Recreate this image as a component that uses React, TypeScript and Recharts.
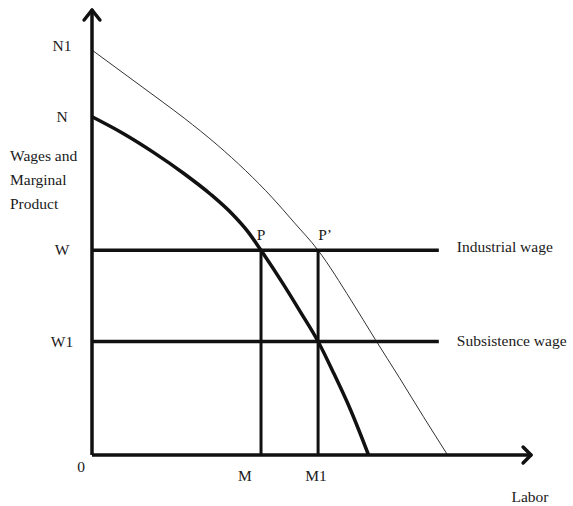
import { ComposedChart, Line, XAxis, YAxis, ReferenceDot, ReferenceLine, Label } from 'recharts';

// labor axis (x) and wage axis (y), both on a 0..100 scale
const laborTicks = [38.5, 51.5];
const laborTickLabels = ['M', 'M1'];
const wageTicks = [0, 25.5, 46, 76, 91];
const wageTickLabels = ['0', 'W1', 'W', 'N', 'N1'];

const industrialWage = 46;
const subsistenceWage = 25.5;
const wageLineEnd = 79;
const laborM = 38.5;
const laborM1 = 51.5;

// marginal product curve N
const mpX = [0, 7, 14, 21, 27, 32, 35.5, 38.5, 43.5, 47.5, 51.5, 55, 59, 63];
const mpY = [76, 72.3, 68, 63.2, 58.6, 54.1, 50.2, 46, 38.5, 32.1, 25.5, 18.5, 9.9, 0];
// shifted marginal product curve N1
const mp1X = [0, 8, 16, 21, 28.5, 35, 41, 46, 51.5, 59, 64.5, 70, 75.5, 81];
const mp1Y = [91, 85.2, 79.4, 75.7, 69.7, 63.9, 57.9, 52.3, 46, 34.8, 26, 17.4, 8.6, 0];

const mpData = mpX.map((x, i) => ({ x, y: mpY[i] }));
const mp1Data = mp1X.map((x, i) => ({ x, y: mp1Y[i] }));
const industrialLine = [{ x: 0, y: industrialWage }, { x: wageLineEnd, y: industrialWage }];
const subsistenceLine = [{ x: 0, y: subsistenceWage }, { x: wageLineEnd, y: subsistenceWage }];
const mLine = [{ x: laborM, y: 0 }, { x: laborM, y: industrialWage }];
const m1Line = [{ x: laborM1, y: 0 }, { x: laborM1, y: industrialWage }];

const FONT = "'Liberation Serif', 'Times New Roman', serif";
const INK = '#111';
const TEXT = '#1a1a1a';
const FS = 15.5;
const W = 573;
const H = 506;

const WageTick = (props: any) => {
  const { x, y, payload } = props;
  const idx = wageTicks.indexOf(payload.value);
  const label = wageTickLabels[idx];
  if (payload.value === 0) {
    return <text x={x - 11} y={y + 17} textAnchor="middle" fontFamily={FONT} fontSize={FS} fill={TEXT}>{label}</text>;
  }
  const lift = idx === wageTicks.length - 1 ? -4 : 0;
  return <text x={x - 30} y={y + 5 + lift} textAnchor="middle" fontFamily={FONT} fontSize={FS} fill={TEXT}>{label}</text>;
};

const LaborTick = (props: any) => {
  const { x, y, payload } = props;
  const label = laborTickLabels[laborTicks.indexOf(payload.value)];
  const dx = payload.value === laborM ? -16 : -2;
  return <text x={x + dx} y={y + 26} textAnchor="middle" fontFamily={FONT} fontSize={FS} fill={TEXT}>{label}</text>;
};

const note = (text: string, dx: number, dy: number, anchor: string) => (p: any) => (
  <text x={p.viewBox.x + dx} y={p.viewBox.y + dy} textAnchor={anchor} fontFamily={FONT} fontSize={FS} fill={TEXT}>
    {text}
  </text>
);

export default function App() {
  const arrow = { stroke: INK, strokeWidth: 3.5, strokeLinecap: 'round' as const, ifOverflow: 'visible' as const };
  return (
    <div style={{ position: 'absolute', left: 0, top: 0, background: '#fff' }}>
      <ComposedChart width={W} height={H} margin={{ top: 10, right: 42, bottom: 0, left: 0 }}>
        <XAxis
          type="number"
          dataKey="x"
          domain={[0, 100]}
          ticks={laborTicks}
          interval={0}
          height={51}
          tickSize={0}
          tickMargin={0}
          tickLine={false}
          axisLine={{ stroke: INK, strokeWidth: 3.5 }}
          tick={<LaborTick />}
        >
          <Label
            content={(p: any) => (
              <text x={p.viewBox.x + p.viewBox.width - 1} y={p.viewBox.y + 47} textAnchor="middle" fontFamily={FONT} fontSize={FS} fill={TEXT}>
                Labor
              </text>
            )}
          />
        </XAxis>
        <YAxis
          type="number"
          dataKey="y"
          domain={[0, 100]}
          ticks={wageTicks}
          interval={0}
          width={92}
          tickSize={0}
          tickMargin={0}
          tickLine={false}
          axisLine={{ stroke: INK, strokeWidth: 3.5 }}
          tick={<WageTick />}
        >
          <Label
            content={(p: any) => (
              <text x={p.viewBox.x + 10} y={161} fontFamily={FONT} fontSize={FS} fill={TEXT}>
                <tspan x={p.viewBox.x + 10} dy={0}>Wages and</tspan>
                <tspan x={p.viewBox.x + 10} dy={24}>Marginal</tspan>
                <tspan x={p.viewBox.x + 10} dy={24}>Product</tspan>
              </text>
            )}
          />
        </YAxis>

        <Line data={mp1Data} dataKey="y" type="monotone" stroke="#333" strokeWidth={1} dot={false} isAnimationActive={false} />
        <Line data={mpData} dataKey="y" type="monotone" stroke={INK} strokeWidth={3.5} dot={false} isAnimationActive={false} />
        <Line data={industrialLine} dataKey="y" type="linear" stroke={INK} strokeWidth={3.5} dot={false} isAnimationActive={false} />
        <Line data={subsistenceLine} dataKey="y" type="linear" stroke={INK} strokeWidth={3.5} dot={false} isAnimationActive={false} />
        <Line data={mLine} dataKey="y" type="linear" stroke={INK} strokeWidth={3} dot={false} isAnimationActive={false} />
        <Line data={m1Line} dataKey="y" type="linear" stroke={INK} strokeWidth={3} dot={false} isAnimationActive={false} />

        {/* arrowheads */}
        <ReferenceLine segment={[{ x: -1.8, y: 97.75 }, { x: 0, y: 100 }]} {...arrow} />
        <ReferenceLine segment={[{ x: 1.8, y: 97.75 }, { x: 0, y: 100 }]} {...arrow} />
        <ReferenceLine segment={[{ x: 98.2, y: 1.8 }, { x: 100, y: 0 }]} {...arrow} />
        <ReferenceLine segment={[{ x: 98.2, y: -1.8 }, { x: 100, y: 0 }]} {...arrow} />

        <ReferenceDot x={laborM} y={industrialWage} r={0} ifOverflow="visible" label={{ content: note('P', 0, -10, 'middle') }} />
        <ReferenceDot x={laborM1} y={industrialWage} r={0} ifOverflow="visible" label={{ content: note('P\u2019', 7, -10, 'middle') }} />
        <ReferenceDot x={wageLineEnd} y={industrialWage} r={0} ifOverflow="visible" label={{ content: note('Industrial wage', 18, 2, 'start') }} />
        <ReferenceDot x={wageLineEnd} y={subsistenceWage} r={0} ifOverflow="visible" label={{ content: note('Subsistence wage', 18, 4, 'start') }} />
      </ComposedChart>
    </div>
  );
}
